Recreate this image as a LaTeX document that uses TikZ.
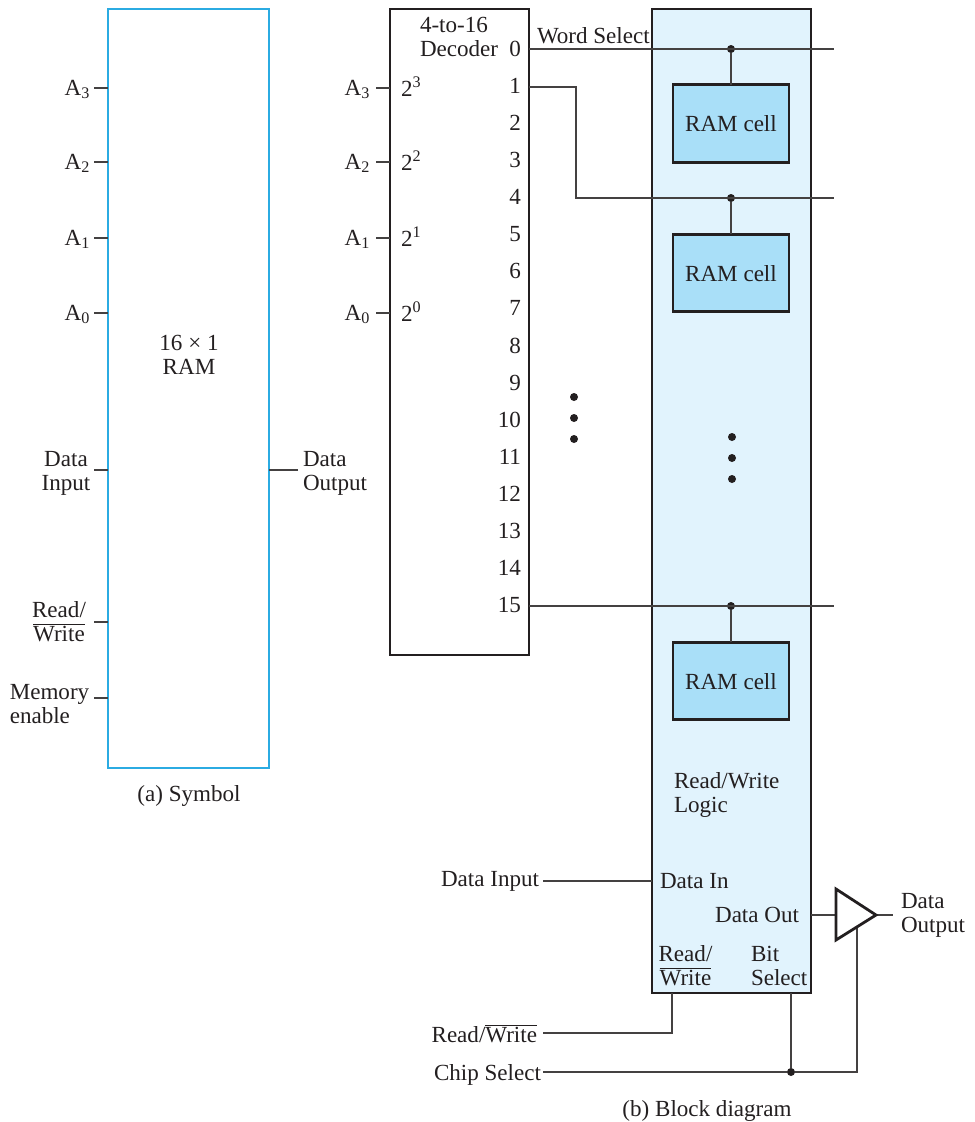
\documentclass[tikz,border=0pt]{standalone}
\usepackage{fontspec}
\setmainfont{Liberation Serif}
\usepackage{tikz}
\usetikzlibrary{positioning, calc}
\definecolor{symblue}{HTML}{2BABE2}
\definecolor{panelblue}{HTML}{E1F3FD}
\definecolor{cellblue}{HTML}{A9DFF8}
\definecolor{inkdark}{HTML}{231F20}
\newcommand{\nrw}[1]{$\overline{\mbox{#1}}$}
\tikzset{
  box/.style={draw=inkdark, line width=2.1pt, inner sep=0pt, outer sep=0pt},
  symbox/.style={box, draw=symblue},
  cell/.style={box, fill=cellblue, minimum width=87pt, minimum height=58pt},
  txt/.style={inner sep=0pt, outer sep=0pt, text=inkdark, font=\fontsize{17.3}{18}\selectfont},
  wire/.style={draw=inkdark!85, line width=0.8pt},
  junction/.style={circle, fill=inkdark, inner sep=0pt, minimum size=6pt},
  vdot/.style={circle, fill=inkdark, inner sep=0pt, minimum size=6pt}
}
\begin{document}
\begin{tikzpicture}[x=0.75pt, y=-0.75pt]
\useasboundingbox (0,0) rectangle (975,1122);
% (a) symbol
\node (Sym) [symbox, minimum width=120.75pt, minimum height=569.25pt] at (188.5,388.5) {};
\node (SymName) [txt, align=center] at (189,355) {16 × 1\\RAM};
\node (SymCap) [txt] at (189,796) {(a) Symbol};
\foreach \k/\yy in {3/88,2/162,1/238,0/313} {
  \node (SA\k) [txt, anchor=base east] at (90,\yy+7) {A\textsubscript{\k}};
  \coordinate (SS\k) at (94,\yy);
  \draw[wire] (SS\k) -- (Sym.west |- SS\k);
  \node (DA\k) [txt, anchor=base east] at (370,\yy+7) {A\textsubscript{\k}};
  \coordinate (DS\k) at (376,\yy);
  \node (DP\k) [txt, anchor=base west] at (401,\yy+8) {2\textsuperscript{\k}};
}
\node (SDin) [txt, align=center] at (66,473) {Data\\Input};
\node (SRw) [txt, align=center] at (59,622) {Read/\\\nrw{Write}};
\node (SMem) [txt, align=left] at (49.5,704) {Memory\\enable};
\node (SDout) [txt, align=left, anchor=west] at (303,473) {Data\\Output};
\coordinate (SDinS) at (94,470);
\coordinate (SRwS) at (94,622);
\coordinate (SMemS) at (94,698);
\coordinate (SDoutS) at (298,470);
\draw[wire] (SDinS) -- (Sym.west |- SDinS);
\draw[wire] (SRwS) -- (Sym.west |- SRwS);
\draw[wire] (SMemS) -- (Sym.west |- SMemS);
\draw[wire] (SDoutS) -- (Sym.east |- SDoutS);
% (b) decoder
\node (Dec) [box, minimum width=104.25pt, minimum height=484.5pt] at (459.5,332) {};
\node (DecName) [txt, align=left, anchor=west] at (420,37) {4-to-16\\Decoder};
\foreach \k in {3,2,1,0} {
  \draw[wire] (DS\k) -- (Dec.west |- DS\k);
}
\foreach \k in {0,...,15} {
  \node (N\k) [txt, anchor=base east] at (521,49+37.13*\k+7) {\k};
}
% memory column
\node (Col) [box, fill=panelblue, minimum width=119.25pt, minimum height=738pt] at (731.5,501) {};
\node (Cell0) [cell] at (731,123.5) {};
\node (Cell1) [cell] at (731,273) {};
\node (Cell2) [cell] at (731,681) {};
\node (Lab0) [txt] at (731,124) {RAM cell};
\node (Lab1) [txt] at (731,274) {RAM cell};
\node (Lab2) [txt] at (731,682) {RAM cell};
\node (WordSel) [txt, anchor=base west] at (537,43) {Word Select};
\coordinate (W0) at (834,49);
\coordinate (W1) at (834,198);
\coordinate (W2) at (834,606);
\coordinate (Bend) at (576,87);
\node (J0) [junction] at (731,49) {};
\node (J1) [junction] at (731,198) {};
\node (J2) [junction] at (731,606) {};
\draw[wire] (Dec.east |- W0) -- (W0);
\draw[wire] (Dec.east |- Bend) -- (Bend) -- (Bend |- W1) -- (W1);
\draw[wire] (Dec.east |- W2) -- (W2);
\draw[wire] (J0) -- (Cell0);
\draw[wire] (J1) -- (Cell1);
\draw[wire] (J2) -- (Cell2);
\foreach \yy in {397,418,439} {
  \node (DotL\yy) [vdot] at (574,\yy) {};
}
\foreach \yy in {437,458,479} {
  \node (DotR\yy) [vdot] at (732,\yy) {};
}
\node (Logic) [txt, align=left, anchor=west] at (674,795) {Read/Write\\Logic};
\node (DIn) [txt, anchor=west] at (660,881) {Data In};
\node (DOut) [txt, anchor=east] at (799,915) {Data Out};
\node (RwIn) [txt, align=center] at (685.5,966) {Read/\\\nrw{Write}};
\node (BitSel) [txt, align=left, anchor=west] at (751,966) {Bit\\Select};
% inputs below the column
\node (DinLab) [txt, anchor=east] at (539,881) {Data Input};
\node (RwLab) [txt, anchor=east] at (537,1034) {Read/\nrw{Write}};
\node (CsLab) [txt, anchor=east] at (541,1075) {Chip Select};
\coordinate (DinS) at (543,881);
\coordinate (RwS) at (543,1033);
\coordinate (CsS) at (543,1072);
\coordinate (RwB) at (672,993);
\node (JCs) [junction] at (791,1072) {};
\draw[wire] (DinS) -- (Col.west |- DinS);
\draw[wire] (RwS) -- (RwB |- RwS) -- (RwB);
\draw[wire, line width=1.3pt] (CsS) -- (JCs);
\draw[wire] (JCs) -- (JCs |- Col.south);
% tri-state buffer
\coordinate (BufT) at (836,889);
\coordinate (BufB) at (836,940);
\coordinate (BufO) at (876,915);
\coordinate (BufC) at (857,928);
\coordinate (OutS) at (893,915);
\draw[wire] (Col.east |- BufO) -- (BufT |- BufO);
\draw[wire] (BufO) -- (OutS);
\draw[wire] (JCs) -- (BufC |- JCs) -- (BufC);
\draw[draw=inkdark, line width=2.1pt, miter limit=10] (BufT) -- (BufB) -- (BufO) -- cycle;
\node (OutLab) [txt, align=left, anchor=west] at (901,915) {Data\\Output};
\node (BlockCap) [txt] at (707,1111) {(b) Block diagram};
\end{tikzpicture}
\end{document}
